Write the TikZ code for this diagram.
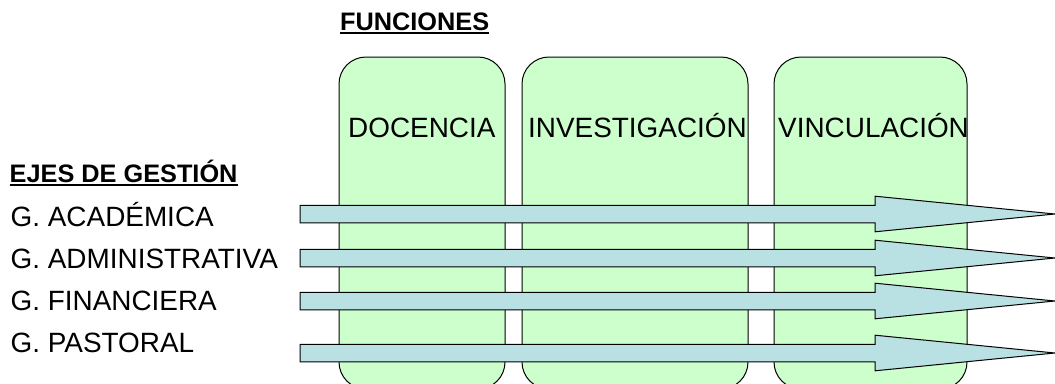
\documentclass[tikz,border=0pt]{standalone}
\usepackage{fontspec}
\setmainfont{Liberation Sans}
\definecolor{funcgreen}{RGB}{204,255,204}
\definecolor{arrowblue}{RGB}{185,224,227}
\begin{document}
\begin{tikzpicture}[x=1pt,y=-1pt,
  func/.style={draw=black, line width=1pt, fill=funcgreen, rounded corners=27pt},
  axisarrow/.style={draw=black, line width=1pt, fill=arrowblue, line join=miter},
  lbl/.style={anchor=base west, inner sep=0pt, font=\fontsize{27.9}{32}\selectfont},
  hdr/.style={anchor=base west, inner sep=0pt, font=\bfseries\fontsize{25.3}{29}\selectfont},
  uline/.style={line width=2pt}]
\useasboundingbox (0,0) rectangle (1055,383);
\clip (0,0) rectangle (1055,383);
% function columns
\path[func] (339,57) rectangle (505,389);
\path[func] (522,57) rectangle (748,389);
\path[func] (774,57) rectangle (967,389);
\node[lbl] (doc) at (348,137) {DOCENCIA};
\node[lbl] (inv) at (528,137) {INVESTIGACIÓN};
\node[lbl] (vin) at (778,137) {VINCULACIÓN};
% headers
\node[hdr] (fun) at (340,30) {FUNCIONES};
\draw[uline] ([yshift=-3pt]fun.base west) -- ([yshift=-3pt]fun.base east);
\node[hdr] (ejes) at (9.5,182) {EJES DE GESTIÓN};
\draw[uline] ([yshift=-3pt]ejes.base west) -- ([yshift=-3pt]ejes.base east);
% axis labels
\node[lbl] (aca) at (10.5,226) {G. ACADÉMICA};
\node[lbl] (adm) at (10.5,268) {G. ADMINISTRATIVA};
\node[lbl] (fin) at (10.5,310) {G. FINANCIERA};
\node[lbl] (pas) at (10.5,352) {G. PASTORAL};
% arrows
\foreach \c in {214,258,301,353}{
  \path[axisarrow] (300,{\c-8.75}) -- (875,{\c-8.75}) -- (875,{\c-17.8}) -- (1055,\c)
    -- (875,{\c+17.8}) -- (875,{\c+8.75}) -- (300,{\c+8.75}) -- cycle;
}
\end{tikzpicture}
\end{document}
